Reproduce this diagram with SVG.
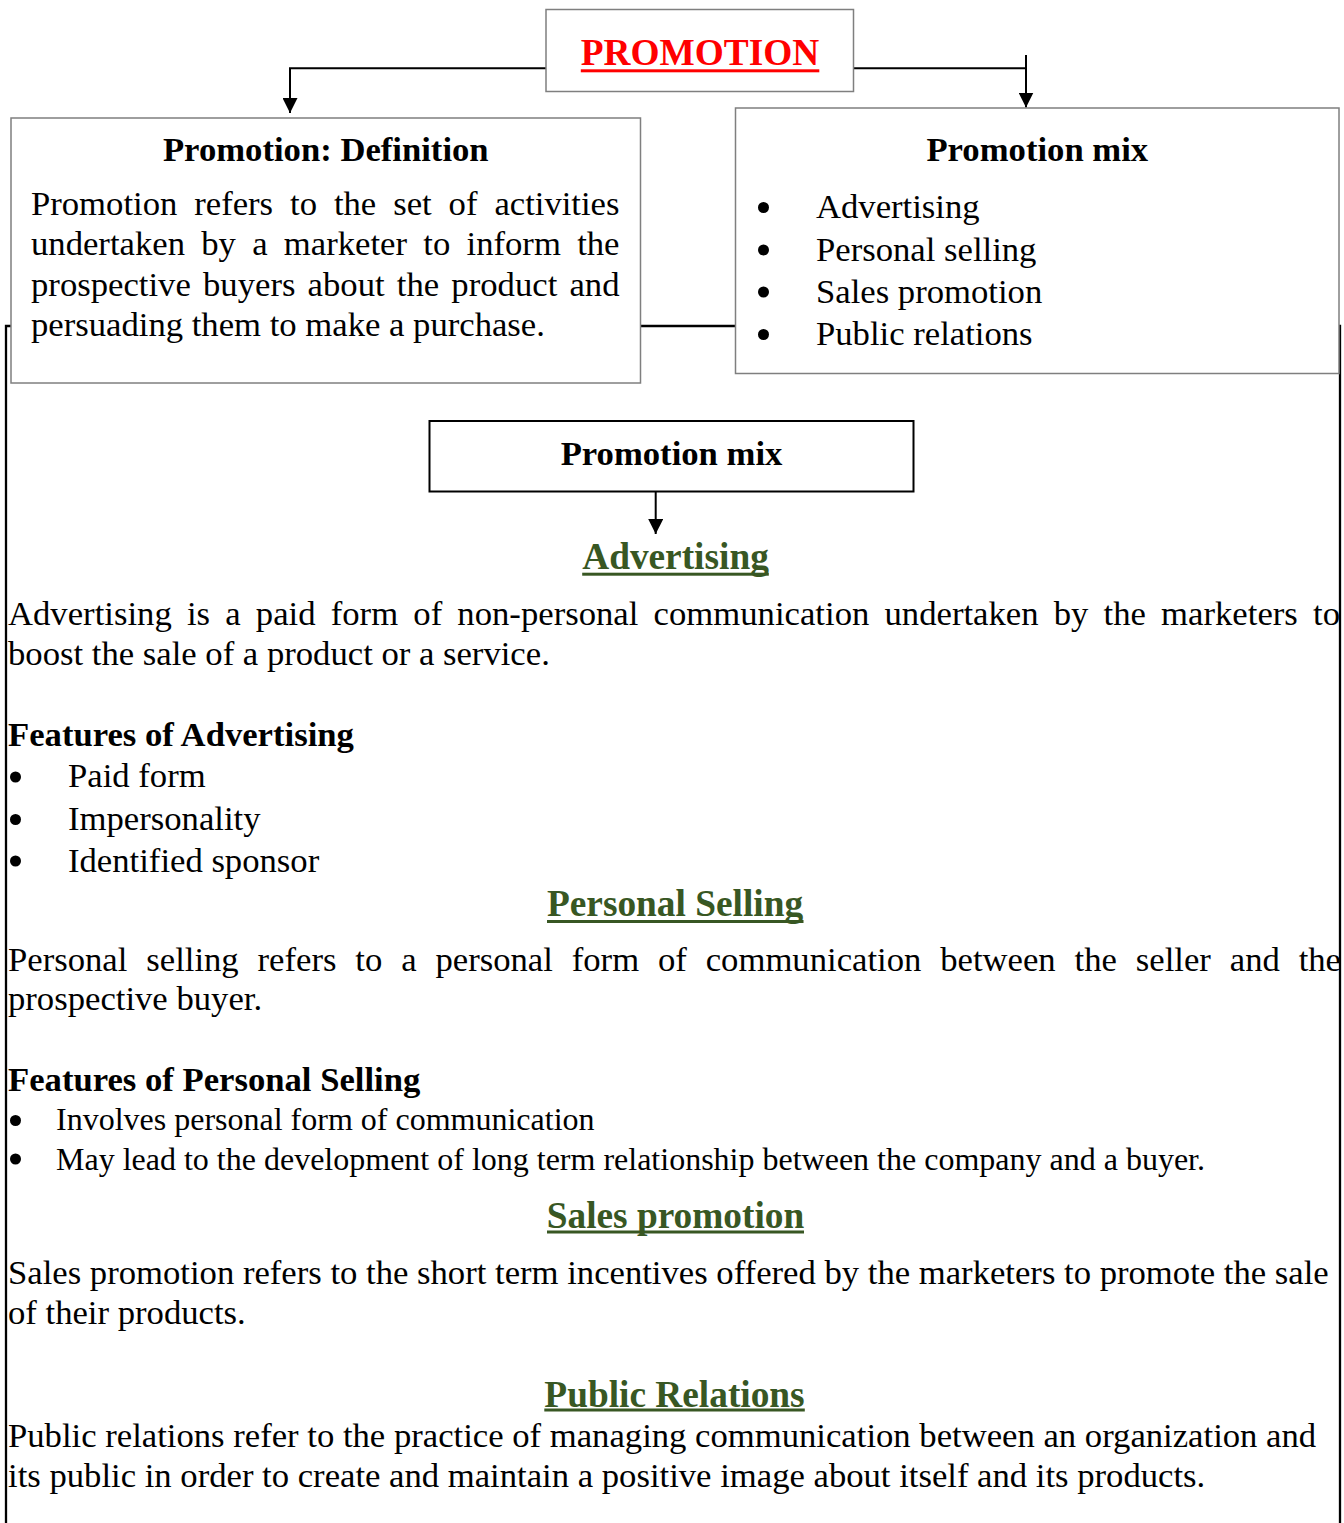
<svg xmlns="http://www.w3.org/2000/svg" width="1344" height="1523" viewBox="0 0 1344 1523">
  <style>
    text { font-family: "Liberation Serif", "Times New Roman", serif; fill: #000; }
    .body { font-size: 34.67px; }
    .small { font-size: 32px; }
    .bold { font-weight: bold; }
    .title { font-size: 34.67px; font-weight: bold; text-anchor: middle; }
    .head { font-size: 37.33px; font-weight: bold; fill: #385723; text-anchor: middle; }
    .dot { fill: #000; }
    .box { fill: #fff; stroke: #7f7f7f; stroke-width: 1.5; }
    .box-dark { fill: #fff; stroke: #000; stroke-width: 2; }
    .conn { fill: none; stroke: #000; stroke-width: 2; }
    .frame { fill: none; stroke: #000; stroke-width: 2.3; }
    .uline-green { fill: #385723; }
  </style>
  <defs>
    <marker id="arrow" viewBox="0 0 15 15" refX="15" refY="7.5" markerWidth="15" markerHeight="15" markerUnits="userSpaceOnUse" orient="auto">
      <path d="M0,0 L15,7.5 L0,15 Z" fill="#000"/>
    </marker>
  </defs>

  <rect width="1344" height="1523" fill="#fff"/>

  <!-- page frame around the lower content -->
  <g id="frame">
    <path class="frame" d="M6,1523 V326 H1340 V1523"/>
  </g>

  <!-- connectors -->
  <g id="connectors">
    <path class="conn" d="M546,68.3 H290 V113" marker-end="url(#arrow)"/>
    <path class="conn" d="M853.5,68.3 H1026"/>
    <path class="conn" d="M1026,55 V107.5" marker-end="url(#arrow)"/>
    <path class="conn" d="M655.7,492 V534" marker-end="url(#arrow)"/>
  </g>

  <!-- top title -->
  <g id="node-promotion">
    <rect class="box" x="546" y="9.5" width="307.5" height="82"/>
    <text x="700" y="65" font-size="37.33" font-weight="bold" text-anchor="middle" style="fill:#ff0000">PROMOTION</text>
    <rect x="580.8" y="69.3" width="238.5" height="3" fill="#ff0000"/>
  </g>

  <!-- definition box -->
  <g id="node-definition">
    <rect class="box" x="11" y="118" width="629.5" height="265"/>
    <text class="title" x="325.8" y="161">Promotion: Definition</text>
    <text class="body" x="31" y="214.5" word-spacing="8.3" textLength="588.5" lengthAdjust="spacing">Promotion refers to the set of activities</text>
    <text class="body" x="31" y="255" word-spacing="7.6" textLength="588.5" lengthAdjust="spacing">undertaken by a marketer to inform the</text>
    <text class="body" x="31" y="295.5" word-spacing="3.5" textLength="588.5" lengthAdjust="spacing">prospective buyers about the product and</text>
    <text class="body" x="31" y="335.5">persuading them to make a purchase.</text>
  </g>

  <!-- promotion mix list box -->
  <g id="node-mix-list">
    <rect class="box" x="735.5" y="108" width="603.5" height="265.5"/>
    <text class="title" x="1037.3" y="161">Promotion mix</text>
    <circle class="dot" cx="763.5" cy="207.5" r="5.5"/>
    <circle class="dot" cx="763.5" cy="250" r="5.5"/>
    <circle class="dot" cx="763.5" cy="292" r="5.5"/>
    <circle class="dot" cx="763.5" cy="334.5" r="5.5"/>
    <text class="body" x="816" y="218">Advertising</text>
    <text class="body" x="816" y="260.5">Personal selling</text>
    <text class="body" x="816" y="302.5">Sales promotion</text>
    <text class="body" x="816" y="344.5">Public relations</text>
  </g>

  <!-- promotion mix heading box -->
  <g id="node-mix">
    <rect class="box-dark" x="429.5" y="421" width="484" height="70.5"/>
    <text class="title" x="671.5" y="465">Promotion mix</text>
  </g>

  <!-- advertising -->
  <g id="section-advertising">
    <text class="head" x="675.5" y="569">Advertising</text>
    <rect class="uline-green" x="582.2" y="572.7" width="186.6" height="3"/>
    <text class="body" x="8" y="624.5" word-spacing="6.5" textLength="1332" lengthAdjust="spacing">Advertising is a paid form of non-personal communication undertaken by the marketers to</text>
    <text class="body" x="8" y="664.5">boost the sale of a product or a service.</text>
    <text class="body bold" x="8" y="746">Features of Advertising</text>
    <circle class="dot" cx="15.5" cy="777" r="5.5"/>
    <circle class="dot" cx="15.5" cy="819.5" r="5.5"/>
    <circle class="dot" cx="15.5" cy="861" r="5.5"/>
    <text class="body" x="68" y="787">Paid form</text>
    <text class="body" x="68" y="829.5">Impersonality</text>
    <text class="body" x="68" y="872">Identified sponsor</text>
  </g>

  <!-- personal selling -->
  <g id="section-personal-selling">
    <text class="head" x="675" y="916">Personal Selling</text>
    <rect class="uline-green" x="547" y="920" width="256.5" height="3"/>
    <text class="body" x="8" y="971" word-spacing="10.2" textLength="1333" lengthAdjust="spacing">Personal selling refers to a personal form of communication between the seller and the</text>
    <text class="body" x="8" y="1010">prospective buyer.</text>
    <text class="body bold" x="8" y="1091">Features of Personal Selling</text>
    <circle class="dot" cx="15.5" cy="1120.5" r="5.5"/>
    <circle class="dot" cx="15.5" cy="1159" r="5.5"/>
    <text class="small" x="56" y="1129.5">Involves personal form of communication</text>
    <text class="small" x="56" y="1169.5">May lead to the development of long term relationship between the company and a buyer.</text>
  </g>

  <!-- sales promotion -->
  <g id="section-sales-promotion">
    <text class="head" x="675.5" y="1228">Sales promotion</text>
    <rect class="uline-green" x="547" y="1230.5" width="257" height="3"/>
    <text class="body" x="8" y="1283.5">Sales promotion refers to the short term incentives offered by the marketers to promote the sale</text>
    <text class="body" x="8" y="1323.5">of their products.</text>
  </g>

  <!-- public relations -->
  <g id="section-public-relations">
    <text class="head" x="674.5" y="1406.5">Public Relations</text>
    <rect class="uline-green" x="544.3" y="1408.5" width="260.5" height="3"/>
    <text class="body" x="8" y="1447">Public relations refer to the practice of managing communication between an organization and</text>
    <text class="body" x="8" y="1487">its public in order to create and maintain a positive image about itself and its products.</text>
  </g>
</svg>
